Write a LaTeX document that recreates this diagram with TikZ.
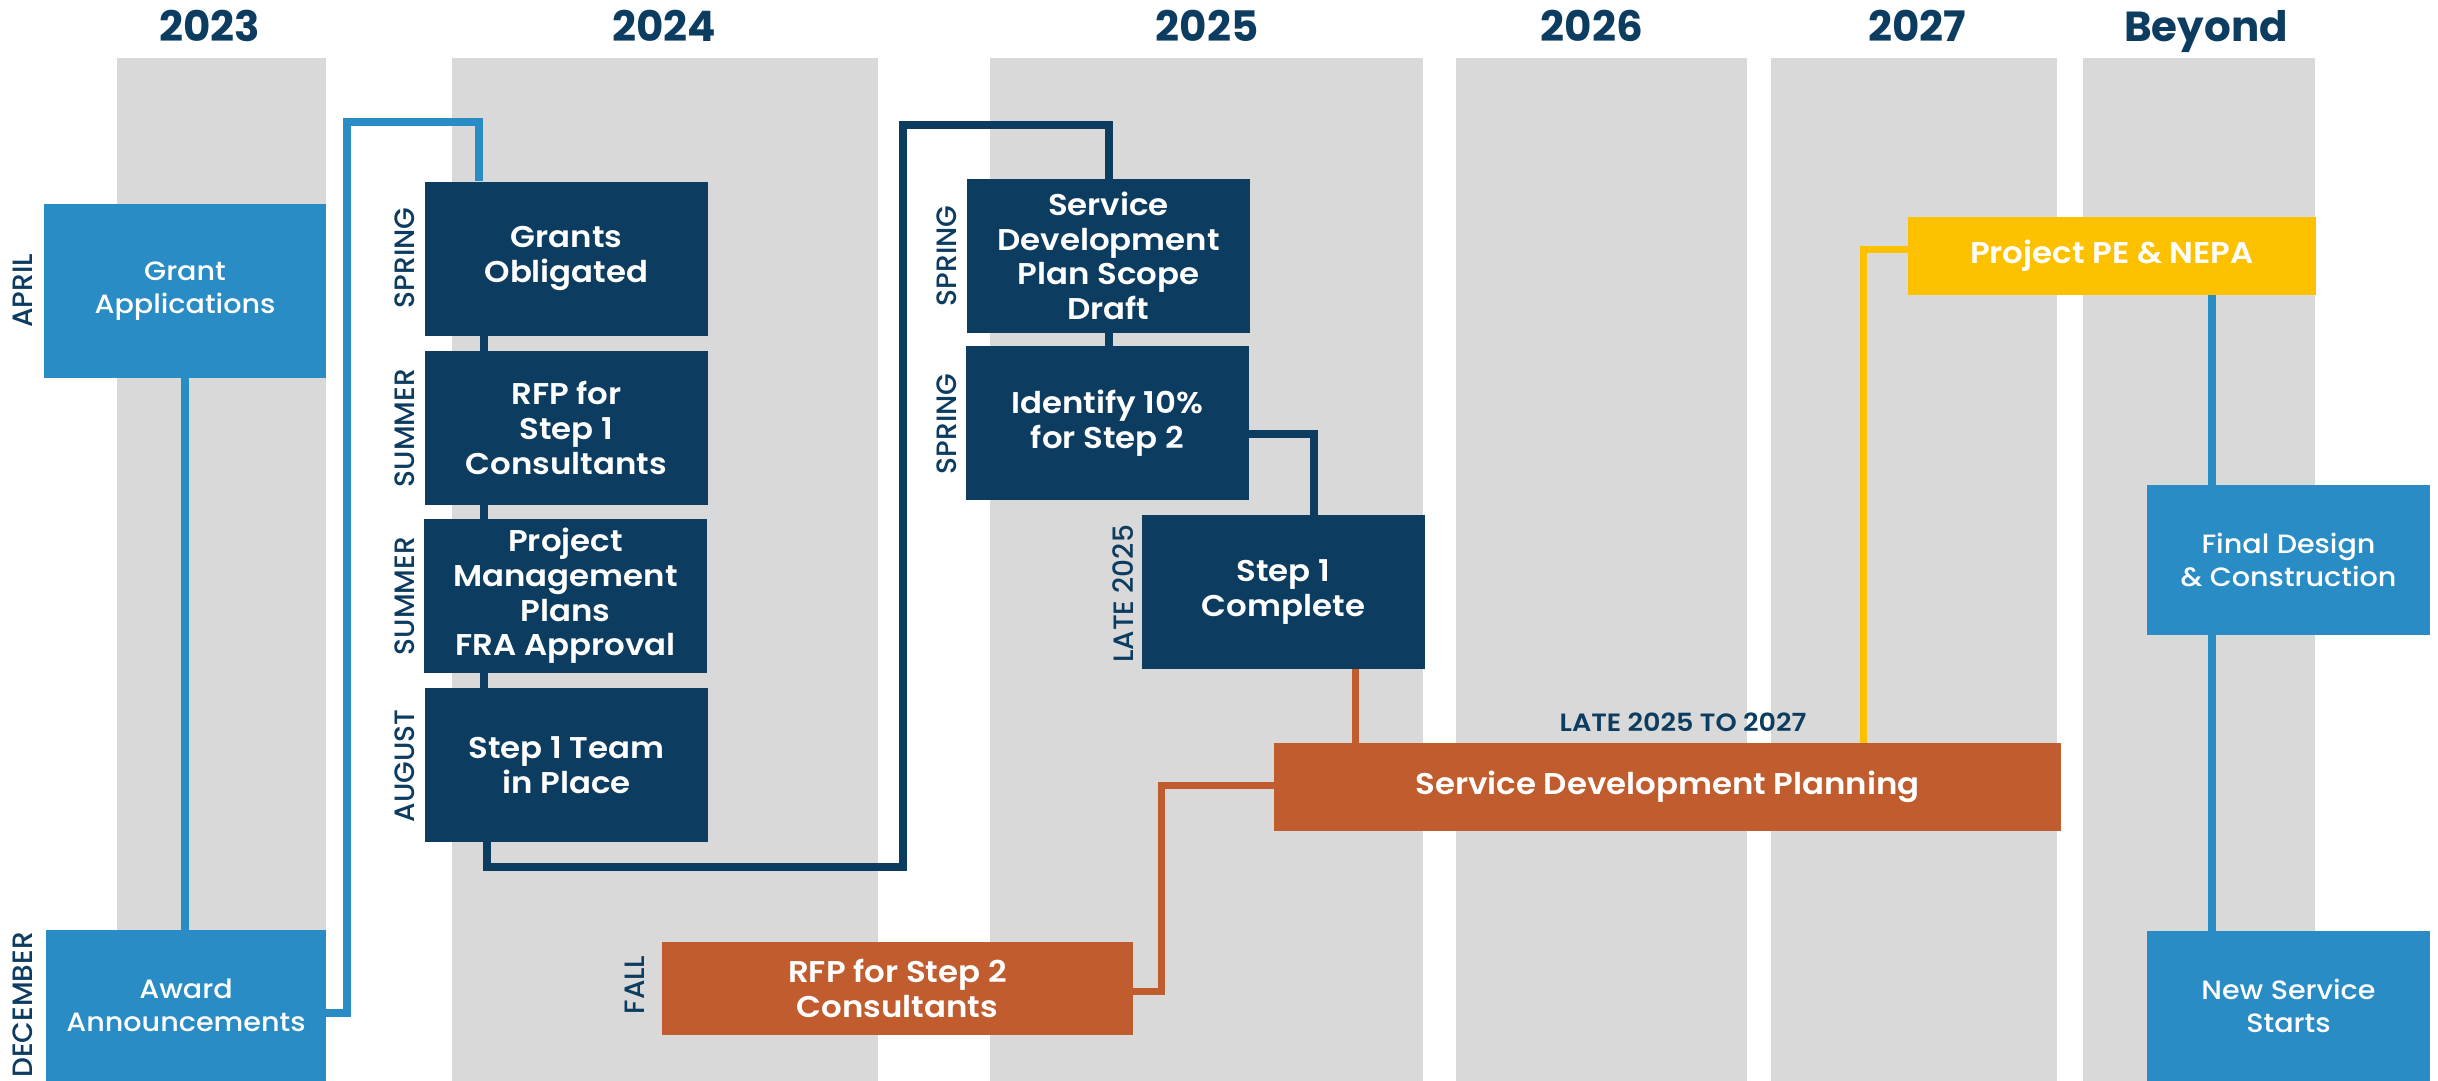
\documentclass[tikz,border=0pt]{standalone}
\usepackage{fontspec}
\setmainfont{Poppins}
\newfontfamily\sbfont{Poppins SemiBold}[FakeStretch=1.08]
\newfontfamily\mdfont{Poppins Medium}[FakeStretch=1.08]
\newfontfamily\bdfont{Poppins Bold}
\newfontfamily\sidefont{Poppins Medium}
\usetikzlibrary{calc}
\definecolor{navy}{HTML}{0D3C61}
\definecolor{lblue}{HTML}{2A8CC4}
\definecolor{ochre}{HTML}{C05C2E}
\definecolor{gold}{HTML}{FDC100}
\definecolor{colgray}{HTML}{D9D9D9}
\pgfdeclarelayer{bg}
\pgfdeclarelayer{lines}
\pgfsetlayers{bg,lines,main}
\tikzset{
  box/.style={rectangle, inner sep=0pt, align=center, text=white,
    font=\sbfont\fontsize{30}{34.7}\selectfont},
  navybox/.style={box, fill=navy, minimum width=283pt, minimum height=154pt},
  bluebox/.style={box, fill=lblue, font=\mdfont\fontsize{26.5}{32.5}\selectfont},
  orbox/.style={box, fill=ochre},
  yelbox/.style={box, fill=gold},
  year/.style={text=navy, anchor=base, font=\bdfont\fontsize{42}{50}\selectfont},
  side/.style={text=navy, rotate=90, font=\sidefont\fontsize{28}{30}\selectfont},
  conn/.style={line width=8pt, line join=miter},
  navyl/.style={conn, draw=navy},
  bluel/.style={conn, draw=lblue},
  orl/.style={conn, draw=ochre, line width=7pt},
  yell/.style={conn, draw=gold, line width=7pt},
}
\begin{document}
\begin{tikzpicture}[x=1pt,y=-1pt]
\useasboundingbox (0,0) rectangle (2438,1081);
\begin{pgfonlayer}{bg}
\fill[colgray] (117,58) rectangle (326,1081);
\fill[colgray] (452,58) rectangle (878,1081);
\fill[colgray] (990,58) rectangle (1423,1081);
\fill[colgray] (1456,58) rectangle (1747,1081);
\fill[colgray] (1771,58) rectangle (2057,1081);
\fill[colgray] (2083,58) rectangle (2315,1081);
\end{pgfonlayer}
% years
\node[year] (y23) at (210,41.5) {2023};
\node[year] (y24) at (664,41.5) {2024};
\node[year] (y25) at (1207,41.5) {2025};
\node[year] (y26) at (1592,41.5) {2026};
\node[year] (y27) at (1917,41.5) {2027};
\node[year] (yby) at (2206,41.5) {Beyond};
% boxes
\node[bluebox, minimum width=282pt, minimum height=174pt] (ga) at (185,291) {Grant\\Applications};
\node[bluebox, minimum width=280pt, minimum height=151pt] (aa) at (186,1005.5) {Award\\Announcements};
\node[navybox] (go) at (566.5,258.5) {Grants\\Obligated};
\node[navybox] (rfp1) at (566.5,428) {RFP for\\Step 1\\Consultants};
\node[navybox] (pm) at (565.5,596) {Project\\Management\\Plans\\FRA Approval};
\node[navybox] (team) at (566.5,765) {Step 1 Team\\in Place};
\node[navybox] (sdp) at (1108.5,256) {Service\\Development\\Plan Scope\\Draft};
\node[navybox] (id) at (1107.5,423) {Identify 10\%\\for Step 2};
\node[navybox] (s1c) at (1283.5,592) {Step 1\\Complete};
\node[orbox, minimum width=787pt, minimum height=88pt] (plan) at (1667.5,787) {Service Development Planning};
\node[orbox, minimum width=471pt, minimum height=93pt] (rfp2) at (897.5,988.5) {RFP for Step 2\\Consultants};
\node[yelbox, minimum width=408pt, minimum height=78pt] (pe) at (2112,256) {Project PE \& NEPA};
\node[bluebox, minimum width=283pt, minimum height=150pt] (fd) at (2288.5,560) {Final Design\\\& Construction};
\node[bluebox, minimum width=283pt, minimum height=150pt] (ns) at (2288.5,1006) {New Service\\Starts};
% labels
\node[text=navy, font=\sbfont\fontsize{25}{28}\selectfont] (lbl) at (1683,722) {LATE 2025 TO 2027};
\node[side] (l1) at (23,291) {APRIL};
\node[side] (l2) at (23,1005) {DECEMBER};
\node[side] (l3) at (405,258) {SPRING};
\node[side] (l4) at (405,428) {SUMMER};
\node[side] (l5) at (405,596) {SUMMER};
\node[side] (l6) at (405,766) {AUGUST};
\node[side] (l7) at (947,256) {SPRING};
\node[side] (l8) at (947,424) {SPRING};
\node[side] (l9) at (1123,594) {LATE 2025};
\node[side] (l10) at (635,985) {FALL};
% connectors
\begin{pgfonlayer}{lines}
\draw[bluel] (ga.south) -- (ga.south |- aa.north);
\draw[bluel] ($(aa.east)+(0,7.5)$) -| (347,122) -| ($(go.north west)+(54,0)$);
\draw[navyl] ($(go.south west)+(59,0)$) -- ($(rfp1.north west)+(59,0)$);
\draw[navyl] ($(rfp1.south west)+(59,0)$) -- ($(pm.north west)+(60,0)$);
\draw[navyl] ($(pm.south west)+(60,0)$) -- ($(team.north west)+(59,0)$);
\draw[navyl] ($(team.south west)+(62,0)$) |- (903,867) |- ($(sdp.north)+(0,-54)$) -- (sdp.north);
\draw[navyl] (sdp.south) -- (sdp.south |- id.north);
\draw[navyl] ($(id.east)+(0,11)$) -| ($(s1c.north west)+(172,0)$);
\coordinate (o1) at ($(s1c.south west)+(214,0)$);
\draw[orl] (o1) -- (o1 |- plan.north);
\draw[orl] ($(rfp2.east)+(0,2.5)$) -| ($(plan.west)+(-112,-2)$) -- ($(plan.west)+(0,-2)$);
\draw[yell] ($(plan.north west)+(590,0)$) |- ($(pe.west)+(0,-7)$);
\coordinate (b1) at ($(pe.south west)+(304,0)$);
\draw[bluel] (b1) -- (b1 |- fd.north);
\coordinate (b2) at ($(fd.south west)+(65,0)$);
\draw[bluel] (b2) -- (b2 |- ns.north);
\end{pgfonlayer}
\end{tikzpicture}
\end{document}
